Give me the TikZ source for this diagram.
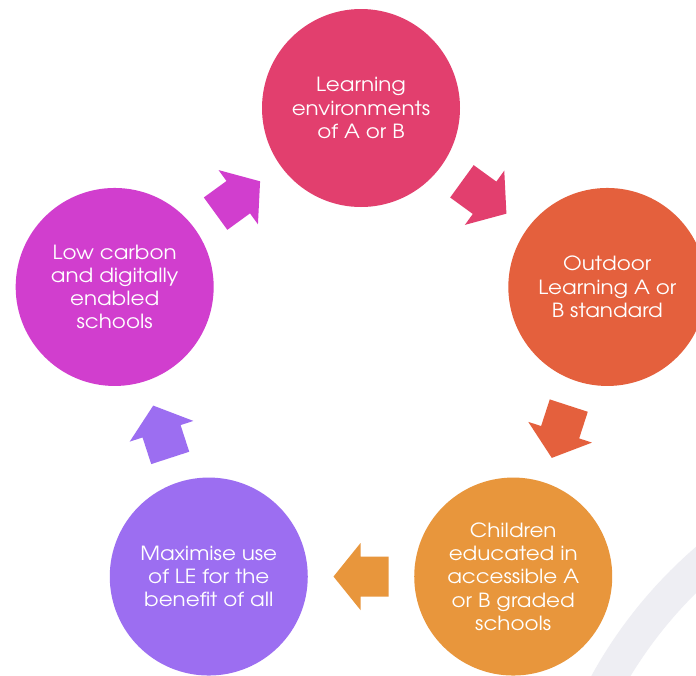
\documentclass[tikz,border=0pt]{standalone}
\usepackage{fontspec}
\setmainfont[FakeStretch=1.1]{TeX Gyre Adventor}
\usetikzlibrary{calc}
\definecolor{cTop}{HTML}{E23F6E}
\definecolor{cRight}{HTML}{E4603D}
\definecolor{cBR}{HTML}{E8963C}
\definecolor{cBL}{HTML}{9C6EF1}
\definecolor{cLeft}{HTML}{D13ECE}
\definecolor{cArc}{HTML}{EEEEF3}
\tikzset{
  bub/.style={circle, minimum size=198pt, inner sep=0pt, text=white, align=center,
    font=\fontsize{19.5}{23.3}\selectfont}
}
\newcommand\blockarr[4]{% from, to, angle, colour
  \coordinate (m#1#2) at ($(#1)!0.5!(#2)$);
  \fill[#4, shift={(m#1#2)}, rotate=#3]
    (-27.5,-20) -- (0.5,-20) -- (0.5,-33.5) -- (27.5,0) -- (0.5,33.5) -- (0.5,20) -- (-27.5,20) -- cycle;
}
\begin{document}
\begin{tikzpicture}[x=1pt,y=1pt]
\useasboundingbox (0,0) rectangle (696,-675);
\clip (0,0) rectangle (696,-675);
\fill[white] (0,0) rectangle (696,-675);
% background arc band
\coordinate (AC) at (1000,-900);
\fill[cArc] ($(AC)+(180:466)$) arc[start angle=180, end angle=90, radius=466]
  -- ($(AC)+(90:432)$) arc[start angle=90, end angle=180, radius=432] -- cycle;
\coordinate (O) at (361,-367);
\node[bub, fill=cTop]   (top)   at ($(O)+(90:259)$)   {Learning\\environments\\of A or B};
\node[bub, fill=cRight] (right) at ($(O)+(18:259)$)   {Outdoor\\Learning A or\\B standard};
\node[bub, fill=cBR]    (br)    at ($(O)+(-54:259)$)  {Children\\educated in\\accessible A\\or B graded\\schools};
\node[bub, fill=cBL]    (bl)    at ($(O)+(-126:259)$) {Maximise use\\of LE for the\\benefit of all};
\node[bub, fill=cLeft]  (left)  at ($(O)+(162:259)$)  {Low carbon\\and digitally\\enabled\\schools};
\blockarr{top}{right}{-36}{cTop}
\blockarr{right}{br}{-108}{cRight}
\blockarr{br}{bl}{180}{cBR}
\blockarr{bl}{left}{108}{cBL}
\blockarr{left}{top}{36}{cLeft}
\end{tikzpicture}
\end{document}
